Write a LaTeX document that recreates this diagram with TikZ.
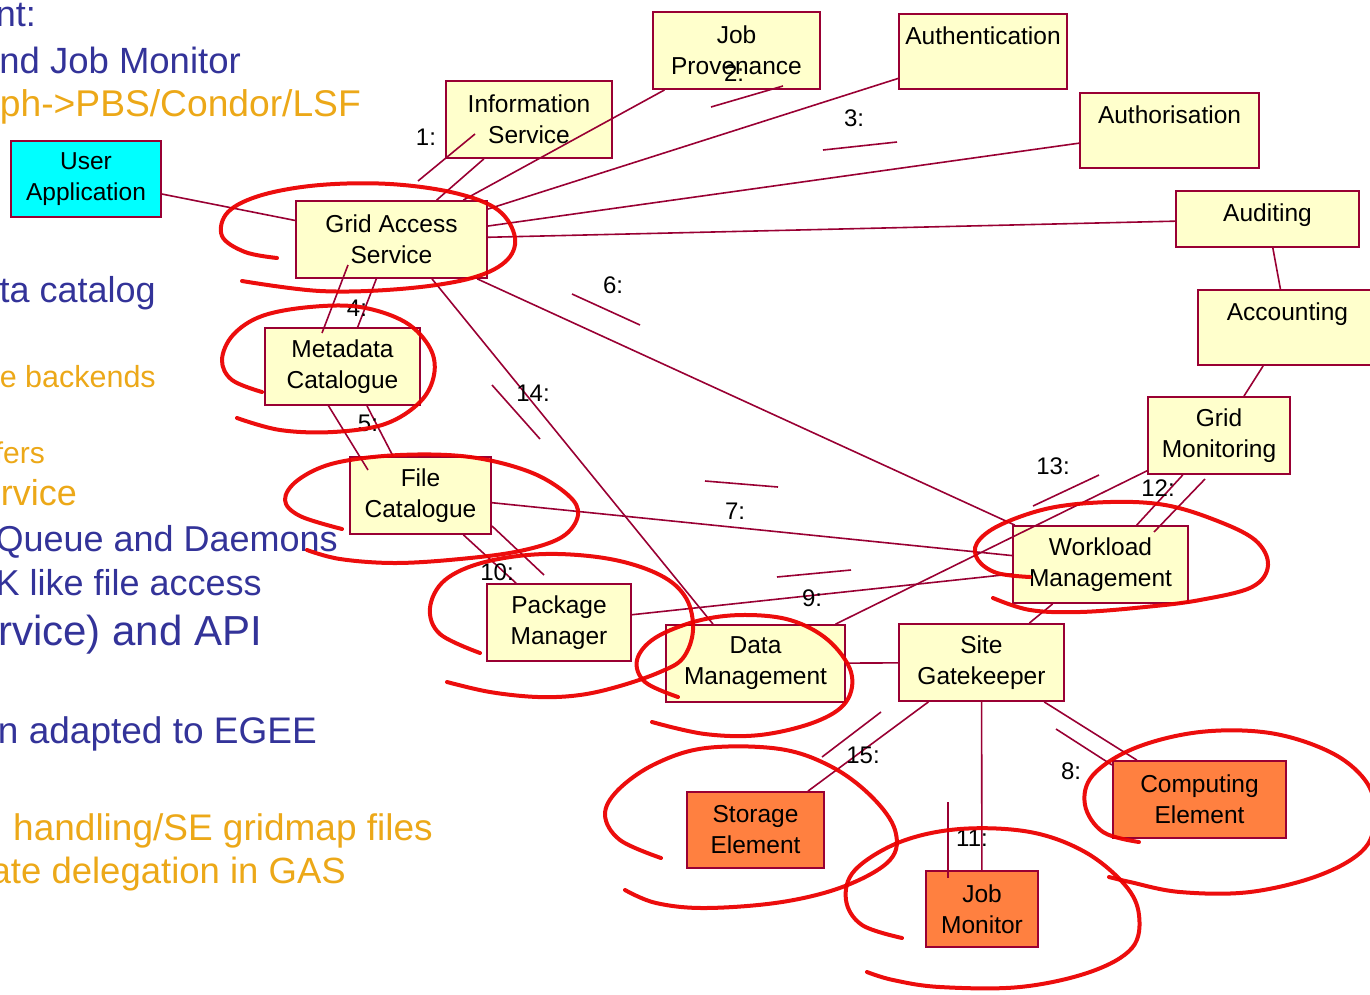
\documentclass[tikz,border=0pt]{standalone}
\usepackage{fontspec}
\setmainfont{Liberation Sans}
\usetikzlibrary{calc}
\definecolor{boxline}{RGB}{153,0,51}
\definecolor{boxfill}{RGB}{255,255,204}
\definecolor{userfill}{RGB}{0,255,255}
\definecolor{sitefill}{RGB}{255,128,64}
\definecolor{slideblue}{RGB}{51,51,153}
\definecolor{slideorange}{RGB}{236,168,24}
\definecolor{penred}{RGB}{235,0,0}

\begin{document}
\begin{tikzpicture}[x=1pt,y=-1pt,
  comp/.style={draw=boxline, line width=1.8pt, fill=boxfill, align=center,
    inner sep=0pt, font=\fontsize{24.5}{31}\selectfont},
  topline/.style={text height=18pt, text depth=#1},
  wire/.style={draw=boxline, line width=1.6pt},
  msgline/.style={draw=boxline, line width=1.6pt},
  msg/.style={font=\fontsize{24}{28}\selectfont, inner sep=0pt},
  bluetext/.style={anchor=base east, inner sep=0pt, text=slideblue},
  orangetext/.style={anchor=base east, inner sep=0pt, text=slideorange},
  pen/.style={draw=penred, line width=4pt, line cap=round, line join=round, opacity=0.95}]

\useasboundingbox (0,0) rectangle (1370,994);

% slide text behind the diagram
\node[bluetext, font=\fontsize{36}{40}\selectfont] (t1) at (36,26) {nt:};
\node[bluetext, font=\fontsize{36.5}{40}\selectfont] (t2) at (241,73) {nd Job Monitor};
\node[orangetext, font=\fontsize{37.2}{40}\selectfont] (t3) at (361,116) {ph->PBS/Condor/LSF};
\node[bluetext, font=\fontsize{36}{40}\selectfont] (t4) at (156,302) {ta catalog};
\node[orangetext, font=\fontsize{30.5}{34}\selectfont] (t5) at (156,387) {e backends};
\node[orangetext, font=\fontsize{30}{34}\selectfont] (t6) at (45,463) {fers};
\node[orangetext, font=\fontsize{36}{40}\selectfont] (t7) at (77,505) {rvice};
\node[bluetext, font=\fontsize{36}{40}\selectfont] (t8) at (338,551) {Queue and Daemons};
\node[bluetext, font=\fontsize{36}{40}\selectfont] (t9) at (262,595) {K like file access};
\node[bluetext, font=\fontsize{42}{46}\selectfont] (t10) at (262,645) {rvice) and API};
\node[bluetext, font=\fontsize{37}{40}\selectfont] (t11) at (317,743) {n adapted to EGEE};
\node[orangetext, font=\fontsize{37}{40}\selectfont] (t12) at (433,840) {handling/SE gridmap files};
\node[orangetext, font=\fontsize{36.5}{40}\selectfont] (t13) at (346,883) {ate delegation in GAS};

% components
\node[comp, fill=userfill, minimum width=150pt, minimum height=76pt] (ua) at (86,179) {User\\Application};
\node[comp, minimum width=166pt, minimum height=77pt] (info) at (529,119.5) {Information\\Service};
\node[comp, minimum width=167pt, minimum height=77pt] (jp) at (736.5,50.5) {Job\\Provenance};
\node[comp, topline=33pt, minimum width=168pt, minimum height=75pt] (authn) at (983,51.5) {Authentication};
\node[comp, topline=33pt, minimum width=179pt, minimum height=75pt] (authz) at (1169.5,130.5) {Authorisation};
\node[comp, topline=14pt, minimum width=183pt, minimum height=56pt] (audit) at (1267.5,219) {Auditing};
\node[comp, topline=33pt, minimum width=179pt, minimum height=75pt] (acct) at (1287.5,327.5) {Accounting};
\node[comp, minimum width=142pt, minimum height=77pt] (gm) at (1219,435.5) {Grid\\Monitoring};
\node[comp, minimum width=191pt, minimum height=77pt] (gas) at (391.5,239.5) {Grid Access\\Service};
\node[comp, minimum width=155pt, minimum height=77pt] (mc) at (342.5,366.5) {Metadata\\Catalogue};
\node[comp, minimum width=141pt, minimum height=77pt] (fc) at (420.5,495.5) {File\\Catalogue};
\node[comp, minimum width=144pt, minimum height=77pt] (pm) at (559,622.5) {Package\\Manager};
\node[comp, minimum width=179pt, minimum height=77pt] (dm) at (755.5,663.5) {Data\\Management};
\node[comp, minimum width=165pt, minimum height=77pt] (sg) at (981.5,662.5) {Site\\Gatekeeper};
\node[comp, minimum width=175pt, minimum height=77pt] (wm) at (1100.5,564.5) {Workload\\Management};
\node[comp, fill=sitefill, minimum width=137pt, minimum height=76pt] (se) at (755.5,830) {Storage\\Element};
\node[comp, fill=sitefill, minimum width=173pt, minimum height=77pt] (ce) at (1199.5,799.5) {Computing\\Element};
\node[comp, fill=sitefill, minimum width=112pt, minimum height=76pt] (jm) at (982,909) {Job\\Monitor};

% links
\draw[wire] (ua) -- (gas);
\draw[wire] (info) -- (gas);
\draw[wire] (jp) -- (gas);
\draw[wire] (authn) -- (gas);
\draw[wire] (authz) -- (gas);
\draw[wire] (audit) -- (gas);
\draw[wire] (audit) -- (acct);
\draw[wire] (acct) -- (gm);
\draw[wire] (gas) -- (wm);
\draw[wire] ($(gas.south)+(40.5,0)$) -- ($(dm.north)+(-42.5,0)$);
\draw[wire] (gas) -- (mc);
\draw[wire] ($(mc.south)+(24.5,0)$) -- ($(fc.north)+(-27.5,0)$);
\draw[wire] (fc) -- (wm);
\draw[wire] (fc) -- (pm);
\draw[wire] (pm) -- (wm);
\draw[wire] (dm) -- (gm);
\draw[wire] (gm) -- (wm);
\draw[wire] (wm) -- (sg);
\draw[wire] (dm) -- (sg);
\draw[wire] (sg) -- (se);
\draw[wire] (sg) -- (jm);
\draw[wire] (sg) -- (ce);

% message strokes beside the links
\draw[msgline] (475,134) -- (418,181);
\draw[msgline] (711,107) -- (783,86);
\draw[msgline] (823,150) -- (897,142);
\draw[msgline] (348,265) -- (322,333);
\draw[msgline] (328,405) -- (368,470);
\draw[msgline] (572,294) -- (640,325);
\draw[msgline] (705,481) -- (778,487);
\draw[msgline] (1056,729) -- (1112,765);
\draw[msgline] (777,577) -- (851,570);
\draw[msgline] (492,526) -- (544,575);
\draw[msgline] (948,802) -- (948,878);
\draw[msgline] (1205,479) -- (1154,532);
\draw[msgline] (1033,506) -- (1099,475);
\draw[msgline] (492,385) -- (540,439);
\draw[msgline] (881,712) -- (822,757);

% message numbers
\node[msg] (m1) at (426,137) {1:};
\node[msg] (m2) at (734,73) {2:};
\node[msg] (m3) at (854,118) {3:};
\node[msg] (m4) at (357,308) {4:};
\node[msg] (m5) at (368,423) {5:};
\node[msg] (m6) at (613,285) {6:};
\node[msg] (m7) at (735,511) {7:};
\node[msg] (m8) at (1071,771) {8:};
\node[msg] (m9) at (812,598) {9:};
\node[msg] (m10) at (497,572) {10:};
\node[msg] (m11) at (972,838) {11:};
\node[msg] (m12) at (1158,488) {12:};
\node[msg] (m13) at (1053,466) {13:};
\node[msg] (m14) at (533,393) {14:};
\node[msg] (m15) at (863,755) {15:};

% freehand rings
\draw[pen] plot[smooth, tension=0.6] coordinates {(277,258) (245,252) (222,236) (228,212) (262,195) (320,185) (390,184) (455,193) (498,210) (515,238) (505,262) (468,279) (400,289) (320,291) (242,281)};
\draw[pen] plot[smooth, tension=0.6] coordinates {(262,392) (232,380) (222,360) (233,335) (262,316) (310,307) (360,307) (405,322) (430,348) (434,375) (420,402) (385,424) (333,432) (280,430) (237,418)};
\draw[pen] plot[smooth, tension=0.6] coordinates {(342,529) (300,516) (285,500) (298,480) (335,463) (400,455) (470,457) (530,472) (568,495) (578,515) (562,537) (520,551) (460,559) (395,563) (340,559) (307,550)};
\draw[pen] plot[smooth, tension=0.6] coordinates {(480,653) (440,634) (430,608) (445,580) (485,562) (545,554) (610,559) (660,575) (686,598) (693,630) (683,658) (660,672) (620,686) (580,695) (538,697) (490,692) (447,682)};
\draw[pen] plot[smooth, tension=0.6] coordinates {(678,697) (645,682) (637,660) (655,638) (697,621) (742,615) (790,620) (828,640) (851,672) (846,702) (815,722) (760,735) (705,734) (652,722)};
\draw[pen] plot[smooth, tension=0.6] coordinates {(1030,577) (997,573) (978,560) (977,543) (1000,525) (1050,508) (1110,502) (1165,505) (1215,520) (1255,540) (1268,565) (1252,587) (1200,600) (1145,607) (1080,612) (1030,610) (993,598)};
\draw[pen] plot[smooth, tension=0.6] coordinates {(661,858) (620,840) (605,815) (618,790) (655,764) (706,748) (780,749) (832,767) (872,797) (895,830) (890,860) (845,886) (782,902) (706,908) (656,903) (625,890)};
\draw[pen] plot[smooth, tension=0.6] coordinates {(902,938) (862,925) (846,900) (855,870) (900,842) (960,829) (1030,832) (1085,852) (1125,885) (1139,915) (1132,948) (1090,972) (1020,987) (940,987) (893,980) (867,972)};
\draw[pen] plot[smooth, tension=0.6] coordinates {(1139,842) (1103,832) (1085,805) (1093,775) (1135,748) (1200,732) (1270,733) (1330,752) (1365,780) (1375,812) (1365,848) (1320,875) (1250,892) (1180,892) (1130,882) (1109,877)};

\end{tikzpicture}
\end{document}
